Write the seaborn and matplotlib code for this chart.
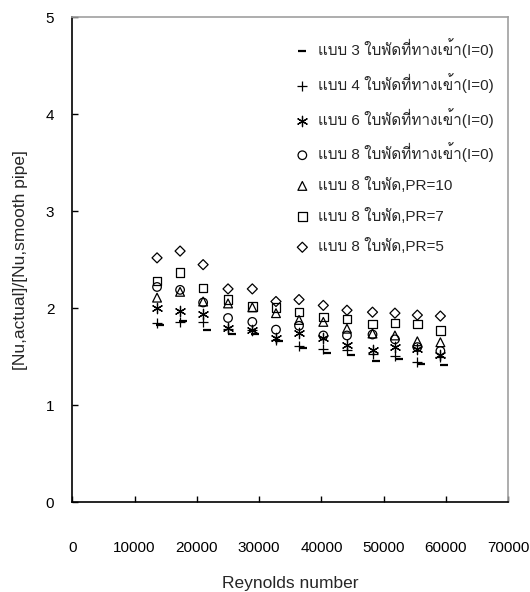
import numpy as np
import pandas as pd
import matplotlib
matplotlib.use("Agg")
import matplotlib.pyplot as plt
import seaborn as sns
from matplotlib import font_manager
from matplotlib.ft2font import FT2Font

# data
re_main = [13600, 17300, 21000, 25000, 28900, 32700, 36400, 40300, 44100, 48200, 51800, 55400, 59100]
re_3 = [14100, 17800, 21600, 25600, 29400, 33200, 37000, 40900, 44700, 48700, 52400, 56000, 59700]

nu_3 = [1.83, 1.87, 1.78, 1.73, 1.74, 1.66, 1.59, 1.54, 1.52, 1.46, 1.48, 1.43, 1.42]
nu_4 = [1.85, 1.86, 1.86, 1.79, 1.78, 1.67, 1.61, 1.58, 1.57, 1.53, 1.51, 1.45, 1.50]
nu_6 = [2.00, 1.97, 1.94, 1.80, 1.78, 1.69, 1.75, 1.69, 1.62, 1.57, 1.60, 1.58, 1.52]
nu_8 = [2.22, 2.19, 2.06, 1.90, 1.86, 1.78, 1.82, 1.72, 1.72, 1.73, 1.68, 1.60, 1.56]
nu_pr10 = [2.11, 2.17, 2.07, 2.05, 2.01, 1.95, 1.88, 1.86, 1.79, 1.74, 1.72, 1.66, 1.65]
nu_pr7 = [2.28, 2.37, 2.21, 2.09, 2.02, 2.01, 1.96, 1.91, 1.89, 1.84, 1.85, 1.84, 1.77]
nu_pr5 = [2.52, 2.59, 2.45, 2.20, 2.20, 2.07, 2.09, 2.03, 1.98, 1.96, 1.95, 1.93, 1.92]

labels = ["แบบ 3 ใบพัดที่ทางเข้า(I=0)",
          "แบบ 4 ใบพัดที่ทางเข้า(I=0)",
          "แบบ 6 ใบพัดที่ทางเข้า(I=0)",
          "แบบ 8 ใบพัดที่ทางเข้า(I=0)",
          "แบบ 8 ใบพัด,PR=10",
          "แบบ 8 ใบพัด,PR=7",
          "แบบ 8 ใบพัด,PR=5"]

# find a font that can draw Thai
thai_font = None
for f in font_manager.fontManager.ttflist:
    try:
        if 0x0E41 in FT2Font(f.fname).get_charmap():
            thai_font = f.name
            break
    except Exception:
        pass

sns.set_style("white")
fams = ["Liberation Sans"]
if thai_font:
    fams.append(thai_font)
fams.append("DejaVu Sans")
plt.rcParams["font.family"] = fams
plt.rcParams["font.size"] = 10

fig = plt.figure(figsize=(5.3, 5.92), dpi=100)
ax = fig.add_axes([0.1365, 0.1515, 0.8225, 0.8193])

series = [
    (re_3, nu_3, "_", False, 40),
    (re_main, nu_4, "+", False, 45),
    (re_main, nu_6, (6, 2, 0), False, 55),
    (re_main, nu_8, "o", True, 38),
    (re_main, nu_pr10, "^", True, 40),
    (re_main, nu_pr7, "s", True, 38),
    (re_main, nu_pr5, "D", True, 26),
]

for (x, y, m, filled, s), lab in zip(series, labels):
    df = pd.DataFrame({"Re": x, "Nu": y})
    if filled:
        sns.scatterplot(data=df, x="Re", y="Nu", marker=m, s=s, facecolor="none",
                        edgecolor="black", linewidth=0.9, ax=ax, label=lab)
    else:
        sns.scatterplot(data=df, x="Re", y="Nu", marker=m, s=s, color="black",
                        linewidth=1.6 if m == "_" else 0.9, ax=ax, label=lab)

ax.set_xlim(0, 70000)
ax.set_ylim(0, 5)
ax.set_xticks(np.arange(0, 70001, 10000))
ax.set_yticks(np.arange(0, 6, 1))
ax.tick_params(axis="x", direction="in", length=4, width=1, pad=28, labelsize=11, colors="black")
ax.tick_params(axis="y", direction="in", length=4, width=1, pad=13, labelsize=11, colors="black")
ax.tick_params(axis="y", which="both", left=True)
ax.tick_params(axis="x", which="both", bottom=True)
for side in ["left", "bottom"]:
    ax.spines[side].set_color("black")
    ax.spines[side].set_linewidth(1.2)
for side in ["top", "right"]:
    ax.spines[side].set_color("#a0a0a0")
    ax.spines[side].set_linewidth(1.2)

ax.set_xlabel("Reynolds number", fontsize=12.5, labelpad=15)
ax.set_ylabel("[Nu,actual]/[Nu,smooth pipe]", fontsize=12.5, labelpad=13)

ax.legend(loc="upper left", bbox_to_anchor=(0.475, 0.985), frameon=False,
          handletextpad=0.4, labelspacing=0.96, fontsize=11, markerscale=1.0,
          handlelength=1.2)

fig.savefig("out.png", dpi=100)
